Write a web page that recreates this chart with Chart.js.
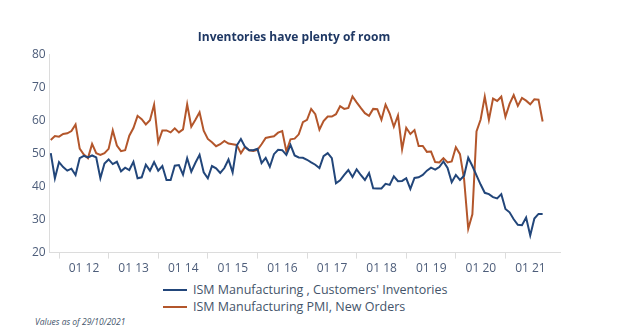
<!DOCTYPE html>
<html>
<head>
<meta charset="utf-8">
<script src="https://cdn.jsdelivr.net/npm/chart.js@4/dist/chart.umd.min.js"></script>
<style>
  html, body { margin: 0; padding: 0; background: #ffffff; }
  #wrap { position: relative; width: 627px; height: 336px; background: #ffffff; overflow: hidden; font-family: "Open Sans", "DejaVu Sans", sans-serif; }
  #c { position: absolute; left: 0; top: 0; }
  #legend { position: absolute; left: 163px; top: 281px; color: #44546a; font-size: 12.5px; line-height: 17px; }
  .item { display: flex; align-items: center; white-space: nowrap; }
  .swatch { display: inline-block; width: 24px; height: 2px; margin-right: 6px; }
  #note { position: absolute; left: 35px; top: 316px; color: #44546a; font-size: 8.5px; font-style: italic; }
</style>
</head>
<body>
<div id="wrap">
  <canvas id="c" width="627" height="279"></canvas>
  <div id="legend"></div>
  <div id="note">Values as of 29/10/2021</div>
</div>
<script>
// Monthly data, November 2011 to October 2021 (index 0 = Nov 2011)
const startMonth = "2011-11";
const tickLabels = ["01 12", "01 13", "01 14", "01 15", "01 16", "01 17", "01 18", "01 19", "01 20", "01 21"];
const customersInventories = [
  50.1, 42.5, 47.4, 45.9, 44.8, 45.4, 43.5, 48.6, 49.3, 48.8, 49.4, 48.8,
  42.5, 47.0, 48.2, 46.8, 47.5, 44.6, 45.7, 45.0, 47.5, 42.5, 42.8, 46.6,
  44.8, 47.4, 44.8, 46.2, 42.0, 42.0, 46.3, 46.5, 43.6, 48.6, 44.5, 47.2,
  49.6, 44.3, 42.5, 46.2, 45.5, 44.1, 45.6, 48.2, 44.3, 52.4, 54.4, 52.0,
  51.0, 51.0, 51.4, 47.1, 48.7, 46.0, 49.8, 51.1, 51.0, 49.6, 52.6, 49.4,
  48.8, 48.7, 48.1, 47.3, 46.6, 45.6, 49.2, 50.1, 48.6, 41.0, 41.9, 43.5,
  45.0, 42.9, 45.2, 43.5, 42.0, 44.1, 39.5, 39.4, 39.4, 40.8, 40.5, 43.1,
  41.6, 41.7, 42.5, 39.3, 42.6, 42.8, 43.5, 44.8, 45.7, 45.1, 45.9, 47.6,
  45.6, 41.3, 43.5, 42.0, 43.3, 48.7, 46.2, 43.4, 40.6, 38.1, 37.7, 36.8,
  36.4, 37.7, 33.2, 32.2, 30.1, 28.4, 28.3, 30.6, 25.2, 30.3, 31.7, 31.7
];
const pmiNewOrders = [
  54.1, 55.3, 55.1, 55.9, 56.1, 56.8, 58.8, 51.5, 49.7, 48.6, 52.9, 50.1,
  49.6, 50.1, 51.4, 57.0, 52.4, 50.7, 51.0, 55.4, 57.7, 61.4, 60.4, 58.8,
  60.1, 64.8, 53.4, 57.0, 57.0, 56.4, 57.6, 56.4, 57.3, 64.9, 58.1, 60.2,
  62.5, 56.9, 54.4, 53.4, 52.2, 52.8, 53.8, 53.0, 52.8, 52.6, 50.1, 52.0,
  51.0, 50.8, 51.1, 52.8, 54.7, 55.0, 55.2, 56.3, 56.8, 50.6, 54.3, 54.5,
  55.8, 59.5, 60.2, 63.5, 61.9, 57.2, 59.8, 61.2, 61.2, 61.9, 64.3, 63.5,
  63.8, 67.3, 65.5, 63.8, 62.2, 61.4, 63.5, 63.4, 60.2, 64.8, 62.1, 58.1,
  61.5, 51.3, 57.8, 55.9, 57.1, 52.3, 52.3, 50.5, 50.6, 47.4, 47.3, 48.6,
  47.3, 47.6, 51.9, 49.8, 42.2, 27.2, 31.6, 56.7, 60.3, 67.2, 60.2, 66.6,
  65.9, 67.2, 61.1, 65.0, 67.7, 64.4, 66.8, 66.0, 64.9, 66.4, 66.3, 59.7
];
const seriesNames = ["ISM Manufacturing , Customers' Inventories", "ISM Manufacturing PMI, New Orders"];
const seriesColors = ["#22467a", "#b3562b"];

// month offset of each January tick relative to startMonth
const startYear = parseInt(startMonth.slice(0, 4), 10);
const startM = parseInt(startMonth.slice(5, 7), 10);
const tickValues = tickLabels.map(t => {
  const yr = 2000 + parseInt(t.slice(3), 10);
  const mo = parseInt(t.slice(0, 2), 10);
  return (yr - startYear) * 12 + (mo - startM);
});
const toPoints = arr => arr.map((v, i) => ({ x: i, y: v }));

const FONT = '"Open Sans", "DejaVu Sans", sans-serif';
const tickColor = '#4d5d7a';
const axisColor = '#dcdcdc';

const chart = new Chart(document.getElementById('c'), {
  type: 'line',
  data: {
    datasets: [
      { label: seriesNames[0], data: toPoints(customersInventories), borderColor: seriesColors[0], backgroundColor: seriesColors[0], borderWidth: 2, pointRadius: 0, tension: 0 },
      { label: seriesNames[1], data: toPoints(pmiNewOrders), borderColor: seriesColors[1], backgroundColor: seriesColors[1], borderWidth: 2, pointRadius: 0, tension: 0 }
    ]
  },
  options: {
    responsive: false,
    animation: false,
    devicePixelRatio: 1,
    layout: { padding: { left: 28, right: 67, top: 0, bottom: 0 } },
    plugins: {
      legend: { display: false },
      tooltip: { enabled: false },
      title: {
        display: true,
        text: 'Inventories have plenty of room',
        color: '#1f3864',
        font: { family: FONT, size: 12, weight: 'bold' },
        padding: { top: 30, bottom: 10 }
      }
    },
    scales: {
      x: {
        type: 'linear',
        min: -0.25,
        max: 123.2,
        afterBuildTicks: scale => { scale.ticks = tickValues.map(v => ({ value: v })); },
        ticks: {
          callback: (value) => { const k = tickValues.indexOf(value); return k >= 0 ? tickLabels[k] : ''; },
          labelOffset: 25,
          color: tickColor,
          font: { family: FONT, size: 12 },
          maxRotation: 0,
          autoSkip: false,
          padding: 3
        },
        grid: { display: true, drawOnChartArea: false, drawTicks: true, tickLength: 6, color: axisColor },
        border: { display: true, color: axisColor, width: 1 }
      },
      y: {
        min: 20,
        max: 80,
        ticks: { stepSize: 10, color: tickColor, font: { family: FONT, size: 12 }, padding: 4 },
        grid: { display: false, drawTicks: false },
        border: { display: true, color: axisColor, width: 1 }
      }
    }
  }
});

// HTML legend built from the chart's datasets
const legendEl = document.getElementById('legend');
chart.data.datasets.forEach(ds => {
  const row = document.createElement('div');
  row.className = 'item';
  const sw = document.createElement('span');
  sw.className = 'swatch';
  sw.style.background = ds.borderColor;
  const tx = document.createElement('span');
  tx.textContent = ds.label;
  row.appendChild(sw);
  row.appendChild(tx);
  legendEl.appendChild(row);
});
</script>
</body>
</html>
